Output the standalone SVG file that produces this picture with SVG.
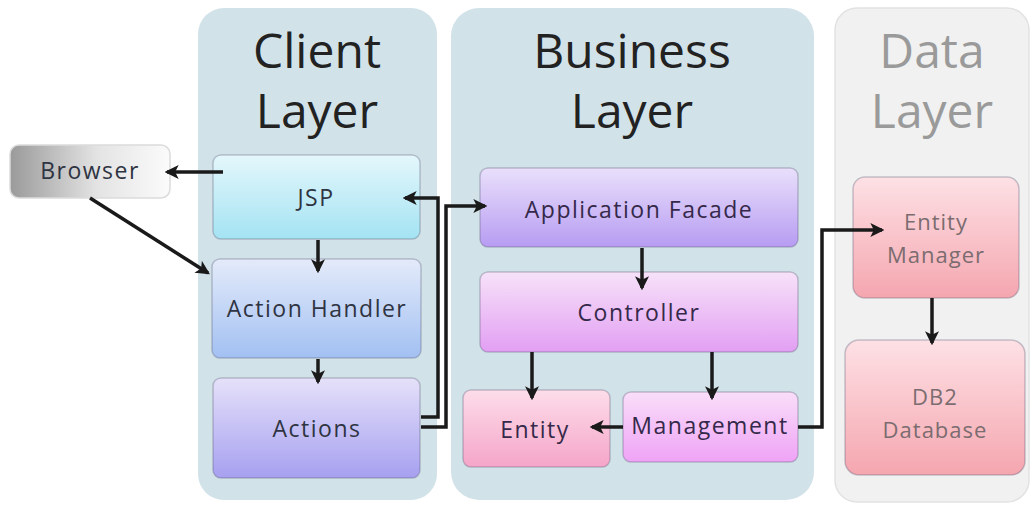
<svg xmlns="http://www.w3.org/2000/svg" width="1033" height="507" viewBox="0 0 1033 507">
  <style>
    .panel-title { font-family: "Open Sans", "DejaVu Sans", sans-serif; font-size: 48px; font-weight: 400; text-anchor: middle; fill: #222; }
    .panel-title.muted { fill: #9a9a9a; }
    .label { font-family: "Open Sans", "DejaVu Sans", sans-serif; font-size: 23px; letter-spacing: 1.5px; text-anchor: middle; fill: #2f3442; }
    .label.biz { fill: #35294a; }
    .label.data { fill: #7b6c70; font-size: 22px; letter-spacing: 1px; }
    .box { stroke: rgba(80,80,110,0.3); stroke-width: 1.5; }
    .wire { fill: none; stroke: #1a1a1a; stroke-width: 3.5; }
  </style>
  <defs>
    <linearGradient id="gBrowser" x1="0" y1="0" x2="1" y2="0">
      <stop offset="0" stop-color="#9a9a9a"/>
      <stop offset="0.55" stop-color="#e4e4e4"/>
      <stop offset="1" stop-color="#fbfbfb"/>
    </linearGradient>
    <linearGradient id="gJsp" x1="0" y1="0" x2="0" y2="1">
      <stop offset="0" stop-color="#e4f7fb"/>
      <stop offset="1" stop-color="#a4e3f3"/>
    </linearGradient>
    <linearGradient id="gHandler" x1="0" y1="0" x2="0" y2="1">
      <stop offset="0" stop-color="#e4ebfa"/>
      <stop offset="1" stop-color="#a2c0f2"/>
    </linearGradient>
    <linearGradient id="gActions" x1="0" y1="0" x2="0" y2="1">
      <stop offset="0" stop-color="#e5e1f9"/>
      <stop offset="1" stop-color="#a6a0f0"/>
    </linearGradient>
    <linearGradient id="gFacade" x1="0" y1="0" x2="0" y2="1">
      <stop offset="0" stop-color="#e9e0fb"/>
      <stop offset="1" stop-color="#b79cf2"/>
    </linearGradient>
    <linearGradient id="gController" x1="0" y1="0" x2="0" y2="1">
      <stop offset="0" stop-color="#f7e2f9"/>
      <stop offset="1" stop-color="#e29ff3"/>
    </linearGradient>
    <linearGradient id="gEntity" x1="0" y1="0" x2="0" y2="1">
      <stop offset="0" stop-color="#fddde9"/>
      <stop offset="1" stop-color="#f5a5c9"/>
    </linearGradient>
    <linearGradient id="gManagement" x1="0" y1="0" x2="0" y2="1">
      <stop offset="0" stop-color="#f9def9"/>
      <stop offset="1" stop-color="#efa3f6"/>
    </linearGradient>
    <linearGradient id="gData" x1="0" y1="0" x2="0" y2="1">
      <stop offset="0" stop-color="#fde1e5"/>
      <stop offset="1" stop-color="#f5a6af"/>
    </linearGradient>
    <marker id="arrow" viewBox="0 0 12 12" refX="10" refY="6" markerWidth="14" markerHeight="14" markerUnits="userSpaceOnUse" orient="auto">
      <path d="M0,0 L12,6 L0,12 L3,6 z" fill="#1a1a1a"/>
    </marker>
  </defs>

  <rect width="1033" height="507" fill="#ffffff"/>

  <!-- layer panels -->
  <g id="client-layer">
    <rect x="198" y="8" width="239" height="492" rx="26" fill="#d2e2e9"/>
    <text class="panel-title" x="317" y="68">Client</text>
    <text class="panel-title" x="317" y="128">Layer</text>
  </g>
  <g id="business-layer">
    <rect x="451" y="8" width="363" height="492" rx="28" fill="#d2e2e9"/>
    <text class="panel-title" x="632" y="68">Business</text>
    <text class="panel-title" x="632" y="128">Layer</text>
  </g>
  <g id="data-layer">
    <rect x="835" y="8" width="194" height="494" rx="22" fill="#f1f1f1" stroke="#e2e2e2" stroke-width="1.5"/>
    <text class="panel-title muted" x="932" y="68">Data</text>
    <text class="panel-title muted" x="932" y="128">Layer</text>
  </g>

  <!-- nodes -->
  <g id="browser">
    <rect x="10" y="145" width="160" height="53" rx="9" fill="url(#gBrowser)" stroke="#dcdcdc" stroke-width="1.5"/>
    <text class="label" x="90" y="179" fill="#444">Browser</text>
  </g>
  <g id="jsp">
    <rect class="box" x="213" y="155" width="207" height="84" rx="8" fill="url(#gJsp)"/>
    <text class="label" x="316" y="206">JSP</text>
  </g>
  <g id="action-handler">
    <rect class="box" x="212" y="259" width="209" height="99" rx="8" fill="url(#gHandler)"/>
    <text class="label" x="317" y="317">Action Handler</text>
  </g>
  <g id="actions">
    <rect class="box" x="213" y="378" width="207" height="100" rx="8" fill="url(#gActions)"/>
    <text class="label" x="317" y="437">Actions</text>
  </g>
  <g id="application-facade">
    <rect class="box" x="480" y="168" width="318" height="79" rx="8" fill="url(#gFacade)"/>
    <text class="label biz" x="639" y="218">Application Facade</text>
  </g>
  <g id="controller">
    <rect class="box" x="480" y="272" width="318" height="80" rx="8" fill="url(#gController)"/>
    <text class="label biz" x="639" y="321">Controller</text>
  </g>
  <g id="entity">
    <rect class="box" x="463" y="390" width="147" height="77" rx="8" fill="url(#gEntity)"/>
    <text class="label biz" x="535" y="438">Entity</text>
  </g>
  <g id="management">
    <rect class="box" x="623" y="392" width="175" height="70" rx="8" fill="url(#gManagement)"/>
    <text class="label biz" x="710" y="434">Management</text>
  </g>
  <g id="entity-manager">
    <rect class="box" x="853" y="177" width="166" height="121" rx="12" fill="url(#gData)"/>
    <text class="label data" x="936" y="230">Entity</text>
    <text class="label data" x="936" y="263">Manager</text>
  </g>
  <g id="db2-database">
    <rect class="box" x="845" y="340" width="180" height="135" rx="14" fill="url(#gData)"/>
    <text class="label data" x="935" y="405">DB2</text>
    <text class="label data" x="935" y="438">Database</text>
  </g>

  <!-- connectors -->
  <g id="connectors" class="wire" marker-end="url(#arrow)">
    <path d="M223,172 H167"/>
    <path d="M90,198 L208,273"/>
    <path d="M318,240 V271"/>
    <path d="M318,359 V382"/>
    <path d="M421,417 H438 V198 H405"/>
    <path d="M421,427 H446 V206 H485"/>
    <path d="M642,248 V288"/>
    <path d="M532,352 V398"/>
    <path d="M712,352 V398"/>
    <path d="M623,427 H592"/>
    <path d="M798,427 H822 V230 H882"/>
    <path d="M932,298 V343"/>
  </g>
</svg>
